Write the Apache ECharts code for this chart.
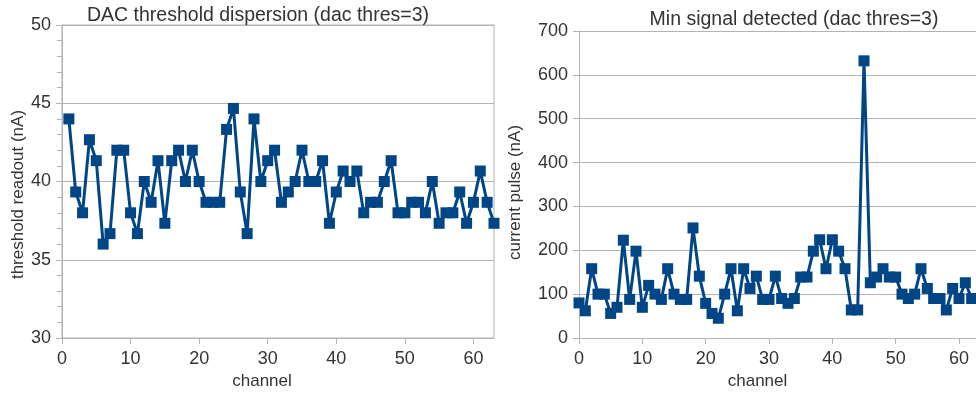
<!DOCTYPE html>
<html>
<head>
<meta charset="utf-8">
<script src="https://cdn.jsdelivr.net/npm/echarts@6/dist/echarts.min.js"></script>
<style>
  html, body { margin: 0; padding: 0; background: #fff; }
  #chart { width: 976px; height: 393px; }
</style>
</head>
<body>
<div id="chart"></div>
<script>
// DAC threshold dispersion, channels 1..63
const thresholdReadout = [
  44, 39.33, 38, 42.67, 41.33, 36, 36.67, 42, 42, 38,
  36.67, 40, 38.67, 41.33, 37.33, 41.33, 42, 40, 42, 40,
  38.67, 38.67, 38.67, 43.33, 44.67, 39.33, 36.67, 44, 40, 41.33,
  42, 38.67, 39.33, 40, 42, 40, 40, 41.33, 37.33, 39.33,
  40.67, 40, 40.67, 38, 38.67, 38.67, 40, 41.33, 38, 38,
  38.67, 38.67, 38, 40, 37.33, 38, 38, 39.33, 37.33, 38.67,
  40.67, 38.67, 37.33
]

// Min signal detected, channels 0..63
const currentPulse = [
  80, 62, 158, 100, 100, 56, 70, 223, 88, 198,
  70, 120, 100, 88, 158, 100, 88, 88, 251, 141,
  79, 56, 45, 100, 158, 62, 158, 113, 141, 88,
  88, 141, 90, 79, 90, 139, 139, 198, 224, 158,
  224, 198, 158, 64, 64, 632, 126, 139, 158, 139,
  139, 100, 90, 100, 158, 113, 90, 90, 64, 113,
  90, 126, 90, 90
]

const leftTicks = { min: 30, max: 50, interval: 5 }
const rightTicks = { min: 0, max: 700, interval: 100 }
const channelTicks = { min: 0, max: 63, interval: 10 }

const lineColor = '#004586'
const axisGray = '#b3b3b3'
const textColor = '#333'
const font = 'Liberation Sans, Arial, sans-serif'

const chart = echarts.init(document.getElementById('chart'), null, { renderer: 'canvas' })

function xAxisFor(gridIndex, padding) {
  return {
    gridIndex,
    type: 'value',
    min: channelTicks.min,
    max: channelTicks.max,
    interval: channelTicks.interval,
    name: 'channel',
    nameLocation: 'middle',
    nameGap: 35,
    nameTextStyle: { fontSize: 17, color: textColor, fontFamily: font, padding },
    axisLine: { show: true, lineStyle: { color: axisGray, width: 1 } },
    axisTick: { show: true, length: 6, lineStyle: { color: axisGray } },
    axisLabel: { fontSize: 18, color: textColor, fontFamily: font, margin: 12, showMaxLabel: false },
    splitLine: { show: false }
  }
}

chart.setOption({
  animation: false,
  title: [
    {
      text: 'DAC threshold dispersion (dac thres=3)',
      left: 253, top: 1, textAlign: 'center',
      textStyle: { fontSize: 19.5, fontWeight: 'normal', color: textColor, fontFamily: font }
    },
    {
      text: 'Min signal detected (dac thres=3)',
      left: 789, top: 5, textAlign: 'center',
      textStyle: { fontSize: 19.5, fontWeight: 'normal', color: textColor, fontFamily: font }
    }
  ],
  grid: [
    { left: 62, top: 25, width: 432, height: 313, outerBoundsMode: 'none', show: true, borderColor: axisGray, borderWidth: 1, backgroundColor: 'transparent' },
    { left: 579, top: 31, width: 399, height: 307, outerBoundsMode: 'none' }
  ],
  xAxis: [xAxisFor(0, [0, 32, 0, 0]), xAxisFor(1, [0, 42, 0, 0])],
  yAxis: [
    {
      gridIndex: 0,
      type: 'value',
      min: leftTicks.min,
      max: leftTicks.max,
      interval: leftTicks.interval,
      name: 'threshold readout (nA)',
      nameLocation: 'middle',
      nameGap: 31,
      nameTextStyle: { fontSize: 17, color: textColor, fontFamily: font, padding: [0, 0, 0, -26] },
      axisLine: { show: true, lineStyle: { color: axisGray } },
      axisTick: { show: true, length: 6, lineStyle: { color: axisGray } },
      minorTick: { show: true, splitNumber: 5, length: 5, lineStyle: { color: axisGray } },
      axisLabel: { fontSize: 18, color: textColor, fontFamily: font, margin: 11 },
      splitLine: { show: true, lineStyle: { color: axisGray, width: 1 } }
    },
    {
      gridIndex: 1,
      type: 'value',
      min: rightTicks.min,
      max: rightTicks.max,
      interval: rightTicks.interval,
      name: 'current pulse (nA)',
      nameLocation: 'middle',
      nameGap: 55,
      nameTextStyle: { fontSize: 17, color: textColor, fontFamily: font, padding: [0, 0, 0, -16] },
      axisLine: { show: true, lineStyle: { color: axisGray } },
      axisTick: { show: true, length: 6, lineStyle: { color: axisGray } },
      axisLabel: { fontSize: 18, color: textColor, fontFamily: font, margin: 11 },
      splitLine: { show: true, lineStyle: { color: axisGray, width: 1 } }
    }
  ],
  series: [
    {
      type: 'line',
      xAxisIndex: 0,
      yAxisIndex: 0,
      data: thresholdReadout.map((v, i) => [i + 1, v]),
      symbol: 'rect',
      symbolSize: 11,
      lineStyle: { color: lineColor, width: 3 },
      itemStyle: { color: lineColor },
      clip: false
    },
    {
      type: 'line',
      xAxisIndex: 1,
      yAxisIndex: 1,
      data: currentPulse.map((v, i) => [i, v]),
      symbol: 'rect',
      symbolSize: 11,
      lineStyle: { color: lineColor, width: 3 },
      itemStyle: { color: lineColor },
      clip: false
    }
  ]
})
</script>
</body>
</html>
